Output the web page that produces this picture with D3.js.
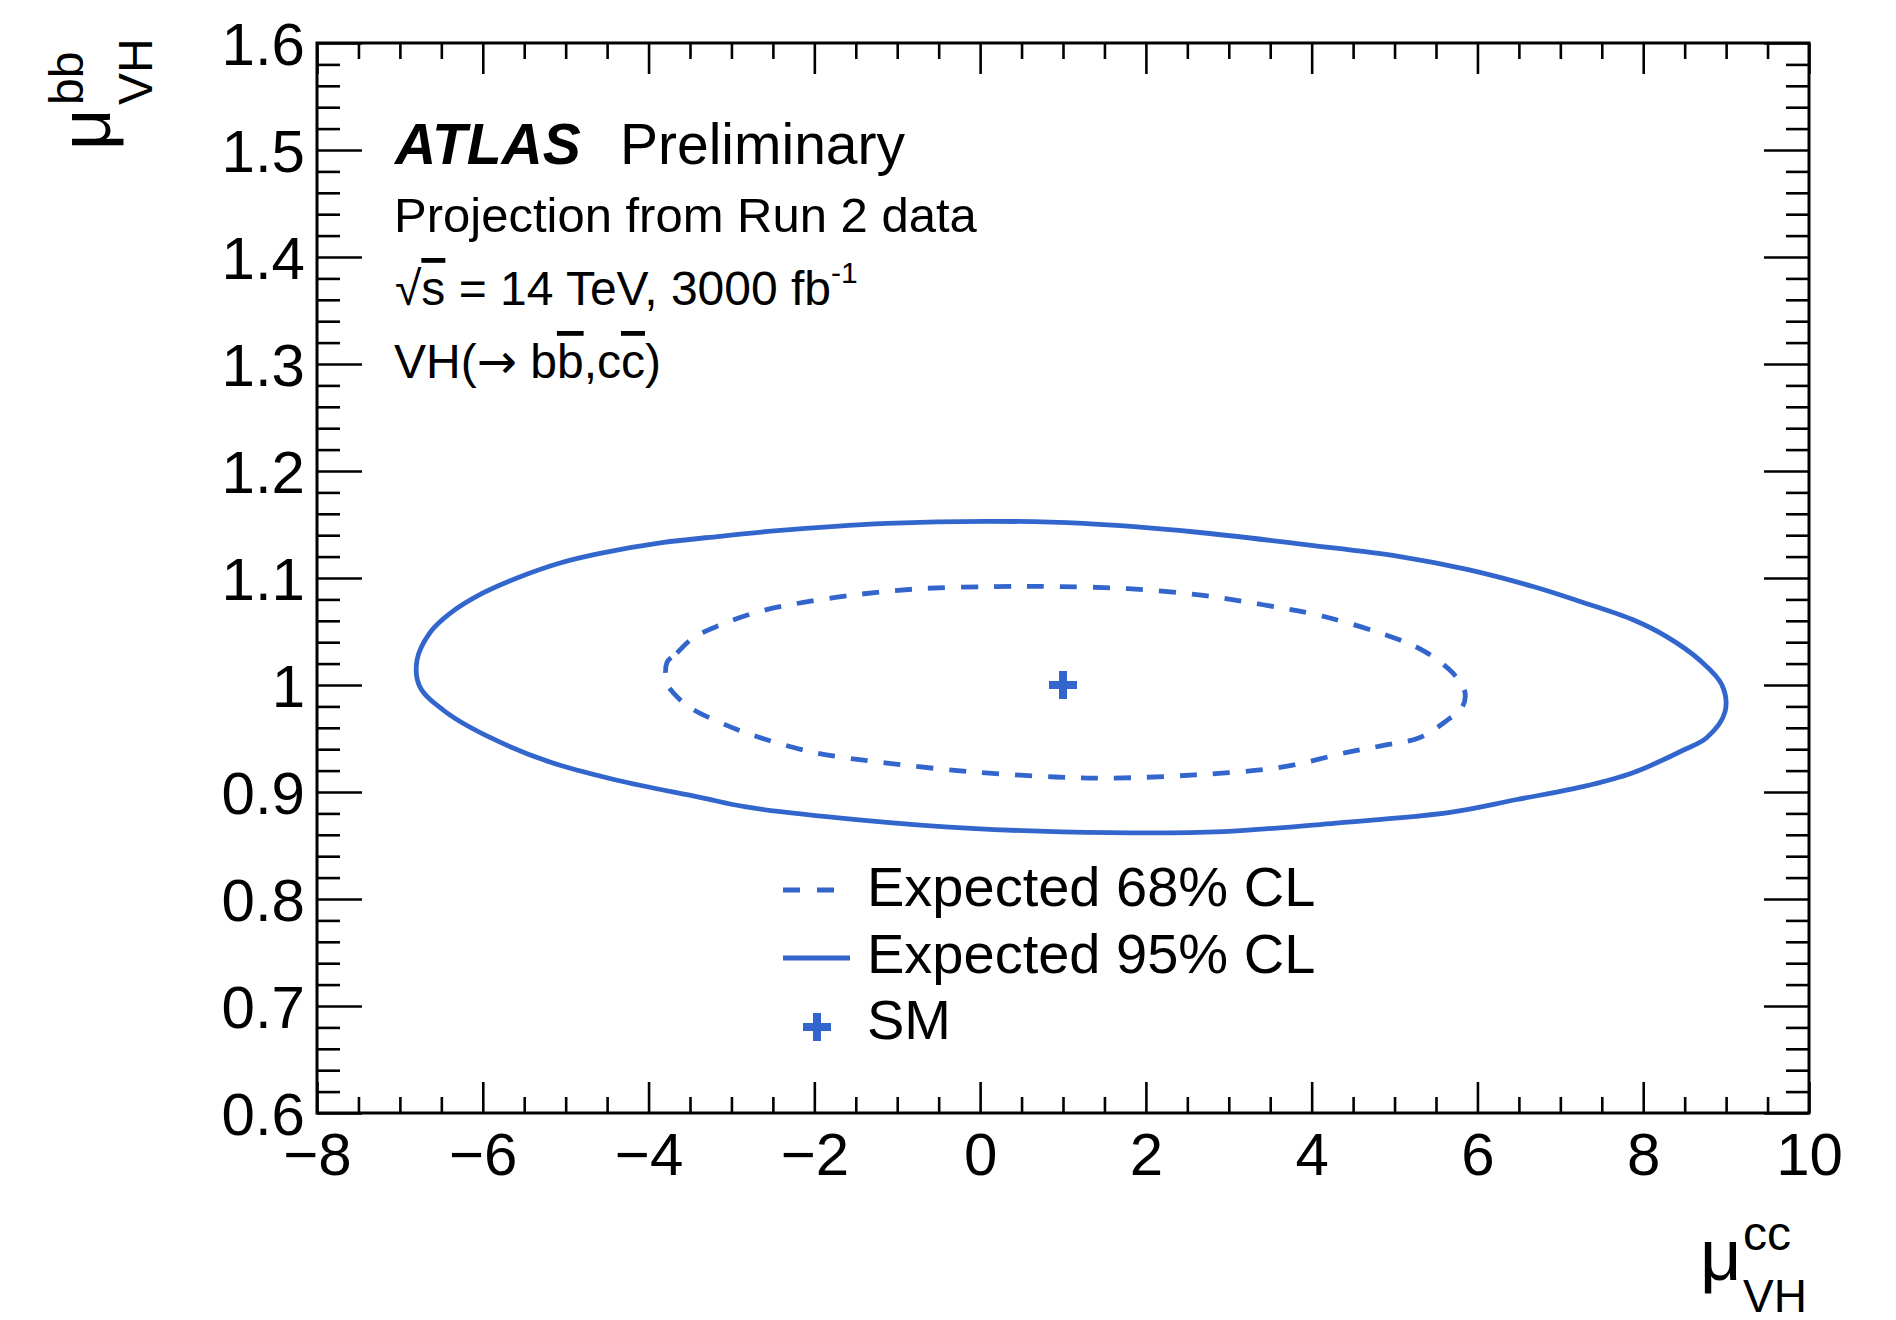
<!DOCTYPE html>
<html>
<head>
<meta charset="utf-8">
<script src="https://cdn.jsdelivr.net/npm/d3@7"></script>
<style>
  html, body { margin: 0; padding: 0; background: #fff; }
  svg { display: block; }
  text { font-family: "Liberation Sans", Arial, Helvetica, sans-serif; fill: #000; }
</style>
</head>
<body>
<svg id="chart" width="1896" height="1320"></svg>
<script>
// ---------------- data ----------------
const xMajorTicks = [-8, -6, -4, -2, 0, 2, 4, 6, 8, 10];
const xTickLabels = ["\u22128", "\u22126", "\u22124", "\u22122", "0", "2", "4", "6", "8", "10"];
const yMajorTicks = [0.6, 0.7, 0.8, 0.9, 1.0, 1.1, 1.2, 1.3, 1.4, 1.5, 1.6];
const yTickLabels = ["0.6", "0.7", "0.8", "0.9", "1", "1.1", "1.2", "1.3", "1.4", "1.5", "1.6"];

// Expected 95% CL contour (mu_cc, mu_bb)
const cl95X = [-6.794, -6.637, -6.395, -5.997, -5.587, -5.068, -4.586, -3.838, -3.138, -2.487,
               -1.123, 0.095, 1.241, 2.593, 3.944, 5.066, 5.874, 6.670, 7.201, 7.877,
               8.287, 8.685, 8.950, 8.987, 8.769, 8.480, 7.877, 7.273, 6.477, 5.669,
               4.294, 2.930, 1.579, -0.110, -1.461, -2.824, -3.379, -4.381, -5.189, -5.913,
               -6.432, -6.757];
const cl95Y = [1.023, 1.049, 1.067, 1.086, 1.100, 1.114, 1.123, 1.133, 1.139, 1.144,
               1.151, 1.153, 1.151, 1.143, 1.131, 1.120, 1.108, 1.092, 1.079, 1.061,
               1.045, 1.023, 1.000, 0.975, 0.951, 0.939, 0.918, 0.905, 0.893, 0.881,
               0.871, 0.863, 0.862, 0.866, 0.874, 0.886, 0.895, 0.911, 0.928, 0.951,
               0.974, 0.998];

// Expected 68% CL contour
const cl68X = [-3.778, -3.657, -3.464, -3.138, -2.740, -2.294, -1.534, -0.725, 0.156, 0.904,
               1.784, 2.665, 3.413, 4.149, 5.066, 5.391, 5.705, 5.850, 5.814, 5.633,
               5.307, 4.897, 4.426, 3.618, 2.593, 1.579, 0.904, -0.110, -1.123, -2.004,
               -2.740, -3.138, -3.500, -3.705, -3.778];
const cl68Y = [1.021, 1.030, 1.044, 1.056, 1.067, 1.075, 1.084, 1.090, 1.092, 1.092,
               1.090, 1.084, 1.075, 1.064, 1.042, 1.030, 1.011, 0.993, 0.979, 0.967,
               0.951, 0.944, 0.937, 0.923, 0.916, 0.913, 0.914, 0.919, 0.927, 0.937,
               0.953, 0.965, 0.979, 0.993, 1.002];

// SM point
const smX = [1.0];
const smY = [1.0];

const legendLabels = ["Expected 68% CL", "Expected 95% CL", "SM"];

// ---------------- layout ----------------
const BLUE = "#3366cc";
const L = 317, R = 1809, T = 43, B = 1113;
const svg = d3.select("#chart");

const x = d3.scaleLinear().domain([-8, 10]).range([L, R]);
const y = d3.scaleLinear().domain([0.6, 1.6]).range([B, T]);

const xMinor = d3.range(-8, 10.001, 0.5).map(v => +v.toFixed(2)).filter(v => !xMajorTicks.includes(v));
const yMinor = d3.range(0.6, 1.6001, 0.02).map(v => +v.toFixed(2))
  .filter(v => !yMajorTicks.some(m => Math.abs(m - v) < 1e-6));

function styleAxis(g) {
  g.select(".domain").remove();
  g.selectAll(".tick line").attr("stroke", "#000").attr("stroke-width", 2.6);
}

// bottom axis (major with labels)
const gxB = svg.append("g").attr("transform", `translate(0,${B})`)
  .call(d3.axisBottom(x).tickValues(xMajorTicks).tickSize(-31)
    .tickFormat((d, i) => xTickLabels[i]));
styleAxis(gxB);
gxB.selectAll(".tick text").attr("y", 62).attr("dy", 0)
  .attr("font-size", 60).attr("font-family", "Liberation Sans, Arial, sans-serif");
svg.append("g").attr("transform", `translate(0,${B})`)
  .call(d3.axisBottom(x).tickValues(xMinor).tickSize(-16).tickFormat(""))
  .call(styleAxis);
// top axis
svg.append("g").attr("transform", `translate(0,${T})`)
  .call(d3.axisTop(x).tickValues(xMajorTicks).tickSize(-31).tickFormat(""))
  .call(styleAxis);
svg.append("g").attr("transform", `translate(0,${T})`)
  .call(d3.axisTop(x).tickValues(xMinor).tickSize(-16).tickFormat(""))
  .call(styleAxis);

// left axis
const gyL = svg.append("g").attr("transform", `translate(${L},0)`)
  .call(d3.axisLeft(y).tickValues(yMajorTicks).tickSize(-45)
    .tickFormat((d, i) => yTickLabels[i]));
styleAxis(gyL);
gyL.selectAll(".tick text").attr("x", -12).attr("dy", "0.36em")
  .attr("font-size", 60).attr("font-family", "Liberation Sans, Arial, sans-serif");
svg.append("g").attr("transform", `translate(${L},0)`)
  .call(d3.axisLeft(y).tickValues(yMinor).tickSize(-23).tickFormat(""))
  .call(styleAxis);
// right axis
svg.append("g").attr("transform", `translate(${R},0)`)
  .call(d3.axisRight(y).tickValues(yMajorTicks).tickSize(-45).tickFormat(""))
  .call(styleAxis);
svg.append("g").attr("transform", `translate(${R},0)`)
  .call(d3.axisRight(y).tickValues(yMinor).tickSize(-23).tickFormat(""))
  .call(styleAxis);

// frame
svg.append("rect").attr("x", L).attr("y", T).attr("width", R - L).attr("height", B - T)
  .attr("fill", "none").attr("stroke", "#000").attr("stroke-width", 3);

// contours
const line = d3.line().x(d => x(d[0])).y(d => y(d[1])).curve(d3.curveCatmullRomClosed.alpha(0.5));
const c95 = cl95X.map((v, i) => [v, cl95Y[i]]);
const c68 = cl68X.map((v, i) => [v, cl68Y[i]]);

svg.append("path").datum(c95).attr("d", line)
  .attr("fill", "none").attr("stroke", BLUE).attr("stroke-width", 4.8)
  .attr("stroke-linejoin", "round");
svg.append("path").datum(c68).attr("d", line)
  .attr("fill", "none").attr("stroke", BLUE).attr("stroke-width", 4.8)
  .attr("stroke-dasharray", "17,16");

// SM cross marker
function cross(g, cx, cy, size, th) {
  g.append("rect").attr("x", cx - size / 2).attr("y", cy - th / 2)
    .attr("width", size).attr("height", th).attr("fill", BLUE);
  g.append("rect").attr("x", cx - th / 2).attr("y", cy - size / 2)
    .attr("width", th).attr("height", size).attr("fill", BLUE);
}
const smG = svg.append("g");
smX.forEach((v, i) => cross(smG, x(v), y(smY[i]), 28, 8));

// ---------------- texts ----------------
const FONT = "Liberation Sans, Arial, Helvetica, sans-serif";

// ATLAS Preliminary
const t1 = svg.append("text").attr("x", 395).attr("y", 164).attr("font-size", 57).attr("font-family", FONT);
t1.append("tspan").attr("font-weight", "bold").attr("font-style", "italic").text("ATLAS");
t1.append("tspan").attr("x", 620).text("Preliminary");

svg.append("text").attr("x", 394).attr("y", 232).attr("font-size", 49).attr("font-family", FONT)
  .text("Projection from Run 2 data");

const t3 = svg.append("text").attr("x", 395).attr("y", 305).attr("font-size", 48).attr("font-family", FONT);
t3.append("tspan").text("\u221A");
t3.append("tspan").attr("text-decoration", "overline").text("s");
t3.append("tspan").text(" = 14 TeV, 3000 fb");
t3.append("tspan").attr("font-size", 30).attr("dy", -22).text("-1");

const t4 = svg.append("text").attr("x", 394).attr("y", 378).attr("font-size", 48).attr("font-family", FONT);
t4.append("tspan").text("VH(");
t4.append("tspan").attr("font-family", "DejaVu Sans").text("\u2192");
t4.append("tspan").text(" b");
t4.append("tspan").attr("text-decoration", "overline").text("b");
t4.append("tspan").text(",c");
t4.append("tspan").attr("text-decoration", "overline").text("c");
t4.append("tspan").text(")");

// legend
const lg = svg.append("g");
lg.append("line").attr("x1", 783).attr("x2", 835).attr("y1", 890).attr("y2", 890)
  .attr("stroke", BLUE).attr("stroke-width", 5).attr("stroke-dasharray", "17,17");
lg.append("line").attr("x1", 783).attr("x2", 850).attr("y1", 958).attr("y2", 958)
  .attr("stroke", BLUE).attr("stroke-width", 5);
cross(lg, 817, 1027, 28, 8);
[906, 973, 1039].forEach((by, i) => {
  lg.append("text").attr("x", 867).attr("y", by).attr("font-size", 56).attr("font-family", FONT)
    .text(legendLabels[i]);
});

// x axis title: mu^{cc}_{VH}
svg.append("text").attr("x", 1700).attr("y", 1280).attr("font-size", 72).attr("font-family", FONT).text("\u03BC");
svg.append("text").attr("x", 1743).attr("y", 1250).attr("font-size", 48).attr("font-family", FONT).text("cc");
svg.append("text").attr("x", 1743).attr("y", 1312).attr("font-size", 46).attr("font-family", FONT).text("VH");

// y axis title: mu^{bb}_{VH}
svg.append("text").attr("transform", "translate(110,150) rotate(-90)")
  .attr("font-size", 72).attr("font-family", FONT).text("\u03BC");
svg.append("text").attr("transform", "translate(83,105) rotate(-90)")
  .attr("font-size", 48).attr("font-family", FONT).text("bb");
svg.append("text").attr("transform", "translate(152,105) rotate(-90)")
  .attr("font-size", 48).attr("font-family", FONT).text("VH");
</script>
</body>
</html>
